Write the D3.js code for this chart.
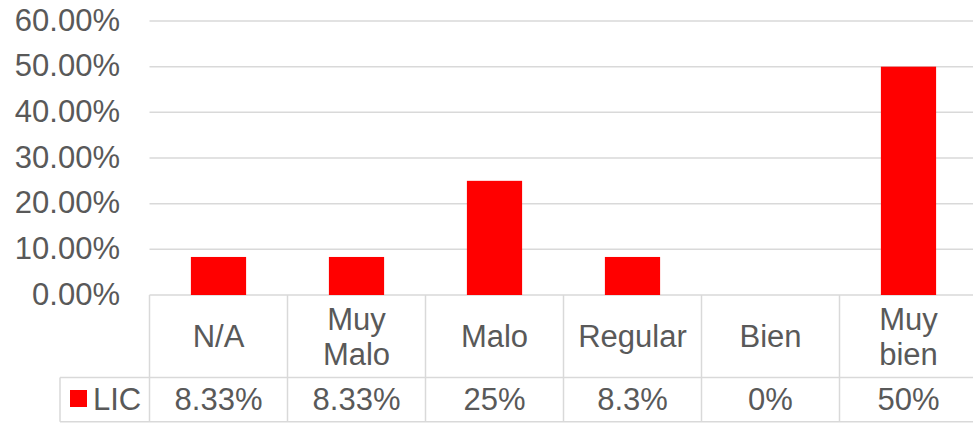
<!DOCTYPE html>
<html>
<head>
<meta charset="utf-8">
<script src="https://d3js.org/d3.v7.min.js"></script>
<style>
body { margin: 0; background: #fff; }
text { font-family: "Liberation Sans", Arial, sans-serif; fill: #595959; }
</style>
</head>
<body>
<div id="chart"></div>
<script>

// data
var categories = [["N/A"], ["Muy", "Malo"], ["Malo"], ["Regular"], ["Bien"], ["Muy", "bien"]];
var values = [8.33, 8.33, 25, 8.33, 0, 50];
var tableLabels = ["8.33%", "8.33%", "25%", "8.3%", "0%", "50%"];
var seriesName = "LIC";
var yTicks = [0, 10, 20, 30, 40, 50, 60];

var width = 973, height = 424;
var plot = {left: 149.5, right: 977.5, top: 21, bottom: 295};
var rowMid = 377.5, rowEnd = 421.7, legendLeft = 60;
var fontSize = 31;

var svg = d3.select("#chart")
  .append("svg")
    .attr("width", width)
    .attr("height", height);

var x = d3.scaleBand()
  .domain(d3.range(categories.length))
  .range([plot.left, plot.right])
  .padding(0);

var y = d3.scaleLinear()
  .domain([0, 60])
  .range([plot.bottom, plot.top]);

// gridlines
svg.append("g")
  .selectAll("line")
  .data(yTicks)
  .enter().append("line")
    .attr("x1", plot.left)
    .attr("x2", plot.right)
    .attr("y1", function(d) { return y(d); })
    .attr("y2", function(d) { return y(d); })
    .attr("stroke", "#d9d9d9")
    .attr("stroke-width", 1.5);

// y labels
svg.append("g")
  .selectAll("text")
  .data(yTicks)
  .enter().append("text")
    .attr("x", 120)
    .attr("y", function(d) { return y(d) + 9.5; })
    .attr("text-anchor", "end")
    .attr("font-size", fontSize + "px")
    .text(function(d) { return d3.format(".2f")(d) + "%"; });

// bars
var barW = x.bandwidth() * 0.4;
svg.append("g")
  .selectAll("rect")
  .data(values)
  .enter().append("rect")
    .attr("x", function(d, i) { return x(i) + (x.bandwidth() - barW) / 2; })
    .attr("y", function(d) { return y(d); })
    .attr("width", barW)
    .attr("height", function(d) { return plot.bottom - y(d); })
    .attr("fill", "#ff0000");

// data table lines
var grid = svg.append("g")
  .attr("stroke", "#d9d9d9")
  .attr("stroke-width", 1.5);

grid.append("line")
  .attr("x1", legendLeft).attr("x2", plot.right)
  .attr("y1", rowMid).attr("y2", rowMid);
grid.append("line")
  .attr("x1", legendLeft).attr("x2", plot.right)
  .attr("y1", rowEnd).attr("y2", rowEnd);
grid.append("line")
  .attr("x1", legendLeft).attr("x2", legendLeft)
  .attr("y1", rowMid).attr("y2", rowEnd);

grid.selectAll("line.col")
  .data(d3.range(categories.length + 1))
  .enter().append("line")
    .attr("class", "col")
    .attr("x1", function(i) { return plot.left + i * x.step(); })
    .attr("x2", function(i) { return plot.left + i * x.step(); })
    .attr("y1", plot.bottom)
    .attr("y2", rowEnd);

// category labels
var cat = svg.append("g")
  .selectAll("text")
  .data(categories)
  .enter().append("text")
    .attr("text-anchor", "middle")
    .attr("font-size", fontSize + "px")
    .attr("x", function(d, i) { return x(i) + x.bandwidth() / 2; });

cat.each(function(lines) {
  var t = d3.select(this);
  var base = lines.length == 1 ? 347 : 329.5;
  lines.forEach(function(l, k) {
    t.append("tspan")
      .attr("x", t.attr("x"))
      .attr("y", base + k * 35.5)
      .text(l);
  });
});

// value row
svg.append("g")
  .selectAll("text")
  .data(tableLabels)
  .enter().append("text")
    .attr("x", function(d, i) { return x(i) + x.bandwidth() / 2; })
    .attr("y", 410)
    .attr("text-anchor", "middle")
    .attr("font-size", fontSize + "px")
    .text(function(d) { return d; });

// legend key
svg.append("rect")
  .attr("x", 70)
  .attr("y", 390)
  .attr("width", 17)
  .attr("height", 17)
  .attr("fill", "#ff0000");

svg.append("text")
  .attr("x", 93)
  .attr("y", 410)
  .attr("font-size", fontSize + "px")
  .text(seriesName);

</script>
</body>
</html>
